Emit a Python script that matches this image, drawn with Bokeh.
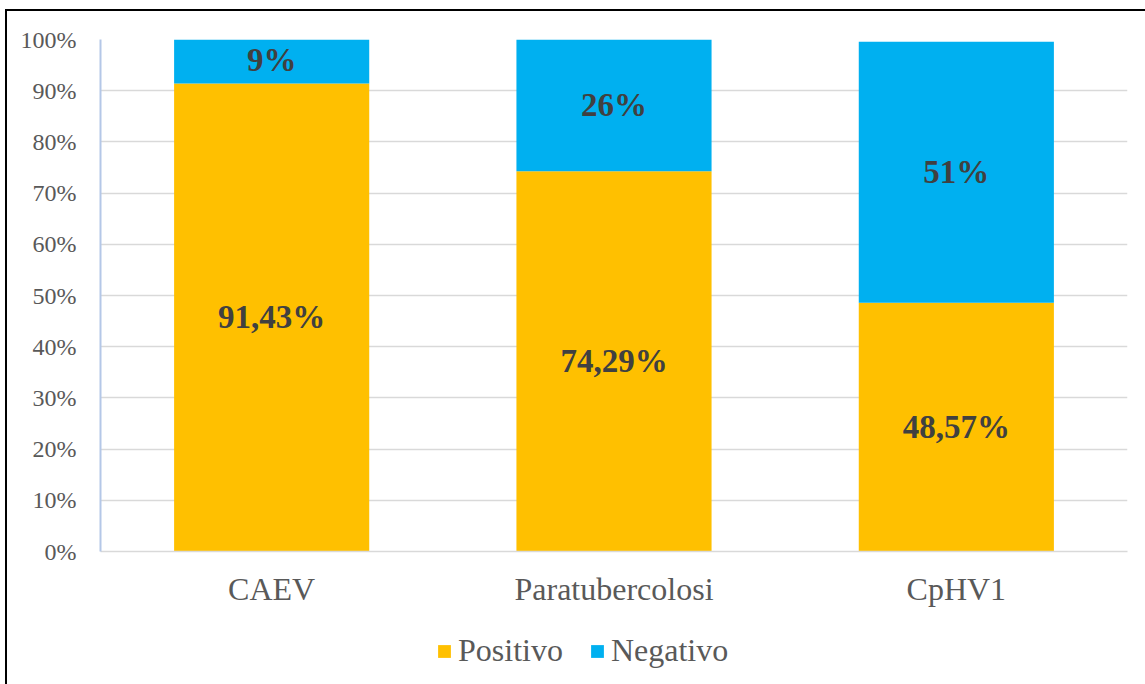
from bokeh.plotting import figure
from bokeh.layouts import column
from bokeh.models import ColumnDataSource, FactorRange, Range1d, FixedTicker, PrintfTickFormatter, Legend, LegendItem
from bokeh.core.properties import value
from bokeh.embed import file_html
from bokeh.resources import INLINE

categories = ["CAEV", "Paratubercolosi", "CpHV1"]
positivo = [91.43, 74.29, 48.57]
negativo = [9, 26, 51]
series_names = ["Positivo", "Negativo"]
colors = ["#FFC000", "#00B0F0"]
y_ticks = [0, 10, 20, 30, 40, 50, 60, 70, 80, 90, 100]

FONT = "Liberation Serif"

src = ColumnDataSource(dict(
    cat=categories,
    pos=positivo,
    neg=negativo,
    neg_bottom=positivo,
    neg_top=[p + n for p, n in zip(positivo, negativo)],
    pos_mid=[p / 2 for p in positivo],
    neg_mid=[p + n / 2 for p, n in zip(positivo, negativo)],
    pos_lab=[f"{p:.2f}".replace(".", ",") + "%" for p in positivo],
    neg_lab=[f"{n:.0f}%" for n in negativo],
))

p = figure(width=1138, height=610, output_backend="svg", toolbar_location=None,
           x_range=FactorRange(*categories, range_padding=0), y_range=Range1d(0, 100),
           min_border_left=93, min_border_right=18, min_border_top=28, min_border_bottom=70)
p.outline_line_color = None

p.vbar(x="cat", top="pos", bottom=0, width=0.57, source=src, fill_color=colors[0], line_color=None)
p.vbar(x="cat", top="neg_top", bottom="neg_bottom", width=0.57, source=src, fill_color=colors[1], line_color=None)

p.text(x="cat", y="pos_mid", text="pos_lab", source=src, text_font=value(FONT), text_font_style="bold",
       text_font_size="33px", text_color="#404040", text_align="center", text_baseline="middle")
p.text(x="cat", y="neg_mid", text="neg_lab", source=src, text_font=value(FONT), text_font_style="bold",
       text_font_size="33px", text_color="#404040", text_align="center", text_baseline="middle")

p.xgrid.grid_line_color = None
p.ygrid.grid_line_color = "#D9D9D9"
p.ygrid.grid_line_width = 1.5
p.yaxis.ticker = FixedTicker(ticks=y_ticks)
p.yaxis.formatter = PrintfTickFormatter(format="%d%%")
p.yaxis.axis_line_color = "#B4C7E7"
p.yaxis.axis_line_width = 2
p.yaxis.major_tick_line_color = None
p.yaxis.minor_tick_line_color = None
p.yaxis.major_label_text_font = FONT
p.yaxis.major_label_text_font_size = "24px"
p.yaxis.major_label_text_color = "#595959"
p.yaxis.major_label_standoff = 18

p.xaxis.axis_line_color = "#D9D9D9"
p.xaxis.axis_line_width = 1.5
p.xaxis.major_tick_line_color = None
p.xaxis.minor_tick_line_color = None
p.xaxis.major_label_text_font = FONT
p.xaxis.major_label_text_font_size = "32px"
p.xaxis.major_label_text_color = "#595959"
p.xaxis.major_label_standoff = 13

# legend strip
p2 = figure(width=1138, height=63, output_backend="svg", toolbar_location=None,
            x_range=Range1d(0, 1), y_range=Range1d(0, 1), min_border=0,
            x_axis_location=None, y_axis_location=None)
p2.grid.grid_line_color = None
p2.outline_line_color = None
d1 = p2.vbar(x=[0.5], top=[0], bottom=[0], width=0.1, fill_color=colors[0], line_color=None)
d2 = p2.vbar(x=[0.5], top=[0], bottom=[0], width=0.1, fill_color=colors[1], line_color=None)

legend = Legend(items=[LegendItem(label=series_names[0], renderers=[d1]),
                       LegendItem(label=series_names[1], renderers=[d2])],
                orientation="horizontal", location=(336, 15))
legend.label_text_font = FONT
legend.label_text_font_size = "32px"
legend.label_text_color = "#595959"
legend.glyph_width = 16
legend.glyph_height = 16
legend.label_standoff = 6
legend.spacing = 26
legend.border_line_color = None
legend.background_fill_alpha = 0
legend.padding = 0
legend.margin = 0
p2.add_layout(legend, "center")

layout = column(p, p2, spacing=0)
layout.styles = {"margin-left": "5px", "margin-top": "9px",
                 "border-left": "2px solid #000000", "border-top": "2px solid #000000"}

open("out.html", "w").write(file_html(layout, INLINE))
